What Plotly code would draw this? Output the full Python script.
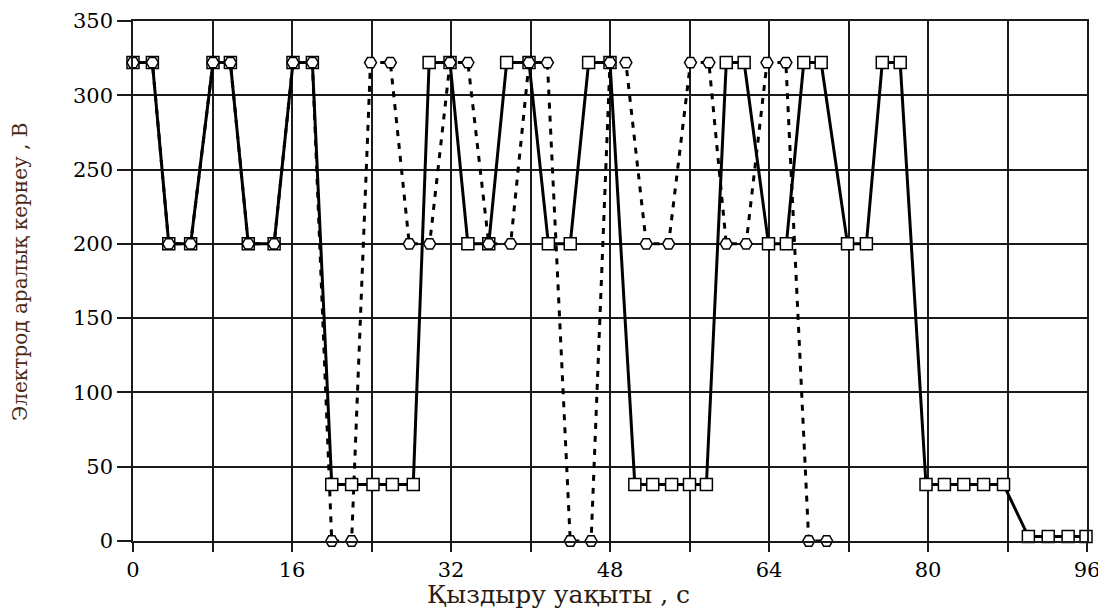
import plotly.graph_objects as go

# Series 1 (solid line, square markers)
t1 = [0, 1.95, 3.6, 5.8, 8.05, 9.8, 11.6, 14.2, 16.1, 18.05,
      20.0, 22.0, 24.15, 26.1, 28.2, 29.8, 31.9, 33.7, 35.8, 37.6,
      39.85, 41.8, 44.0, 45.85, 48.0, 50.5, 52.3, 54.2, 56.0, 57.7,
      59.7, 61.5, 63.95, 65.75, 67.5, 69.25, 71.9, 73.8, 75.4, 77.2,
      79.8, 81.65, 83.6, 85.6, 87.6, 90.1, 92.1, 94.1, 95.9]
u1 = [322, 322, 200, 200, 322, 322, 200, 200, 322, 322,
      38, 38, 38, 38, 38, 322, 322, 200, 200, 322,
      322, 200, 200, 322, 322, 38, 38, 38, 38, 38,
      322, 322, 200, 200, 322, 322, 200, 200, 322, 322,
      38, 38, 38, 38, 38, 3, 3, 3, 3]

# Series 2 (dotted line, hexagon markers)
t2 = [0, 1.95, 3.6, 5.8, 8.05, 9.8, 11.6, 14.2, 16.1, 18.05,
      20.0, 22.0, 23.9, 25.9, 27.8, 29.85, 31.9, 33.7, 35.8, 38.0,
      39.85, 41.7, 44.0, 46.1, 48.0, 49.6, 51.65, 53.9, 56.1, 57.95,
      59.7, 61.7, 63.8, 65.7, 68.0, 69.8]
u2 = [322, 322, 200, 200, 322, 322, 200, 200, 322, 322,
      0, 0, 322, 322, 200, 200, 322, 322, 200, 200,
      322, 322, 0, 0, 322, 322, 200, 200, 322, 322,
      200, 200, 322, 322, 0, 0]

x_ticks = [0, 8, 16, 24, 32, 40, 48, 56, 64, 72, 80, 88, 96]
x_labels = ["0", "", "16", "", "32", "", "48", "", "64", "", "80", "", "96"]
y_ticks = [0, 50, 100, 150, 200, 250, 300, 350]

x_title = "Қыздыру уақыты , с"
y_title = "Электрод аралық кернеу , В"

FONT = "DejaVu Serif"

fig = go.Figure()
fig.add_trace(go.Scatter(x=t2, y=u2, mode="lines",
                         line=dict(color="black", width=3, dash="6px,7px"),
                         showlegend=False, hoverinfo="skip"))
fig.add_trace(go.Scatter(x=t1, y=u1, mode="lines",
                         line=dict(color="black", width=3),
                         showlegend=False, hoverinfo="skip"))
fig.add_trace(go.Scatter(x=t1, y=u1, mode="markers", cliponaxis=False,
                         marker=dict(symbol="square", size=12, color="white",
                                     line=dict(color="black", width=1.5)),
                         showlegend=False))
fig.add_trace(go.Scatter(x=t2, y=u2, mode="markers", cliponaxis=False,
                         marker=dict(symbol="hexagon2", size=12, color="white",
                                     line=dict(color="black", width=1.5)),
                         showlegend=False))

# page has an 8px body margin: figure coords = page coords - 8
W, H = 1098, 603
L, R, T, B = 125, 19, 13, 70
pw = W - L - R
ph = H - T - B

fig.update_layout(
    width=W, height=H,
    margin=dict(l=L, r=R, t=T, b=B, autoexpand=False),
    paper_bgcolor="white", plot_bgcolor="white",
    font=dict(family=FONT, color="black", size=21),
    xaxis=dict(range=[0, 96], tickvals=x_ticks, ticktext=x_labels,
               showgrid=True, gridcolor="#1a1a1a", gridwidth=1.5,
               ticks="outside", ticklen=9, tickwidth=1.5, tickcolor="#1a1a1a",
               showline=True, linecolor="#1a1a1a", linewidth=1.5, mirror=True,
               zeroline=False, tickfont=dict(size=21, family=FONT)),
    yaxis=dict(range=[0, 350], tickvals=y_ticks,
               showgrid=True, gridcolor="#1a1a1a", gridwidth=1.5,
               ticks="outside", ticklen=14, tickwidth=1.5, tickcolor="#1a1a1a",
               showline=True, linecolor="#1a1a1a", linewidth=1.5, mirror=True,
               zeroline=False, tickfont=dict(size=21, family=FONT)),
    annotations=[
        dict(text=x_title, xref="paper", yref="paper",
             x=(550 - L) / pw, y=-B / ph,
             xanchor="center", yanchor="bottom", showarrow=False,
             font=dict(size=25, family=FONT, color="#2a1a10")),
        dict(text=y_title, xref="paper", yref="paper",
             x=(12 - L) / pw, y=((H - B) - 264) / ph,
             xanchor="center", yanchor="middle", showarrow=False, textangle=-90,
             font=dict(size=20, family=FONT, color="#4a2a14")),
    ],
)

fig.write_html("out.html")
